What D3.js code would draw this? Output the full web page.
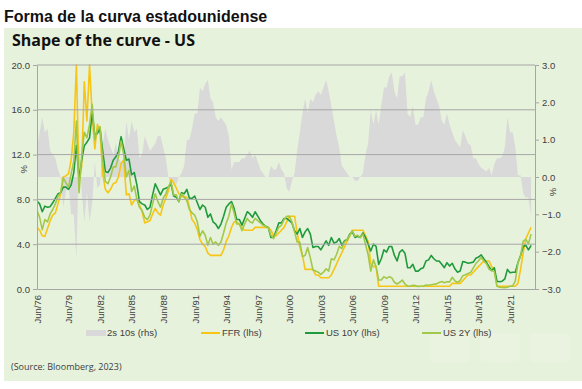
<!DOCTYPE html>
<html lang="es">
<head>
<meta charset="UTF-8">
<script src="https://d3js.org/d3.v7.min.js"></script>
<style>
  body { margin: 0; background: #fff; }
  text { font-family: "Liberation Sans", Arial, sans-serif; }
</style>
</head>
<body>
<svg id="chart" width="582" height="389"></svg>
<script>
// quarterly readings, Jun 1976 .. Jun 2023
const startDate = new Date(1976, 5, 1);

const ffr = [
  5.5, 5.25, 4.75,
  4.7, 5.4, 6.1, 6.6,   6.8, 7.6, 8.5, 10.0,   10.1, 10.3, 11.5, 14.0,
  20.0, 9.5, 11.0, 18.5,   15.0, 20.0, 15.5, 12.5,   14.7, 14.0, 10.3, 8.9,
  8.6, 8.9, 9.4, 9.5,   10.0, 11.2, 11.5, 8.4,   8.5, 7.5, 7.9, 8.1,
  7.5, 6.9, 5.9, 6.0,   6.1, 6.7, 7.2, 6.8,   6.6, 7.5, 8.1, 8.8,
  9.8, 9.5, 9.0, 8.5,   8.25, 8.25, 8.2, 7.3,   6.2, 5.9, 5.3, 4.4,
  4.0, 3.8, 3.2, 3.0,   3.0, 3.0, 3.0, 3.0,   3.5, 4.25, 4.75, 5.5,
  6.0, 6.0, 5.75, 5.5,   5.25, 5.25, 5.25, 5.25,   5.5, 5.5, 5.5, 5.5,
  5.5, 5.5, 5.25, 4.75,   4.75, 5.0, 5.25, 5.5,   6.0, 6.5, 6.5, 6.5,
  5.0, 3.75, 3.0, 1.75,   1.75, 1.75, 1.75, 1.25,   1.25, 1.0, 1.0, 1.0,
  1.0, 1.25, 1.75, 2.25,   2.75, 3.25, 3.75, 4.25,   4.75, 5.25, 5.25, 5.25,
  5.25, 5.25, 4.75, 4.25,   2.25, 2.0, 2.0, 0.25,   0.25, 0.25, 0.25, 0.25,
  0.25, 0.25, 0.25, 0.25,   0.25, 0.25, 0.25, 0.25,   0.25, 0.25, 0.25, 0.25,
  0.25, 0.25, 0.25, 0.25,   0.25, 0.25, 0.25, 0.25,   0.25, 0.25, 0.25, 0.5,
  0.5, 0.5, 0.5, 0.75,   1.0, 1.25, 1.25, 1.5,   1.75, 2.0, 2.25, 2.5,
  2.5, 2.5, 2.0, 1.75,   0.25, 0.25, 0.25, 0.25,   0.25, 0.25, 0.25, 0.25,
  0.5, 1.75, 3.25, 4.5,   5.0, 5.5
];

const us10y = [
  7.85, 7.6, 6.9,
  7.4, 7.3, 7.35, 7.7,   8.1, 8.5, 8.6, 9.1,   9.1, 8.9, 9.3, 10.4,
  12.8, 9.8, 11.5, 12.8,   13.1, 13.5, 15.8, 13.7,   13.9, 14.3, 12.3, 10.5,
  10.4, 10.8, 11.5, 11.8,   12.3, 13.6, 12.5, 11.5,   11.6, 10.2, 10.4, 9.3,
  7.8, 7.6, 7.5, 7.1,   7.3, 8.4, 9.4, 8.9,   8.4, 8.9, 9.0, 9.1,
  9.4, 8.3, 8.2, 7.8,   8.6, 8.5, 8.9, 8.1,   8.1, 8.3, 7.7, 7.1,
  7.5, 7.3, 6.4, 6.7,   6.0, 5.8, 5.4, 5.8,   6.5, 7.3, 7.6, 7.8,
  7.2, 6.2, 6.2, 5.7,   6.3, 6.9, 6.7, 6.4,   6.9, 6.5, 6.1, 5.8,
  5.6, 5.5, 4.6, 4.6,   5.2, 5.9, 5.9, 6.3,   6.3, 6.1, 5.9, 5.2,
  4.9, 5.4, 4.6, 5.1,   5.4, 4.9, 3.7, 3.8,   3.8, 3.5, 3.9, 4.3,
  3.9, 4.6, 4.1, 4.2,   4.5, 3.9, 4.3, 4.4,   4.9, 5.1, 4.6, 4.7,
  4.6, 5.0, 4.6, 4.0,   3.4, 4.0, 3.8, 2.2,   2.7, 3.5, 3.3, 3.8,
  3.8, 3.0, 2.5, 3.3,   3.5, 3.2, 1.9, 1.9,   2.2, 1.6, 1.6, 1.8,
  1.9, 2.5, 2.6, 3.0,   2.7, 2.5, 2.5, 2.2,   1.9, 2.35, 2.05, 2.3,
  1.8, 1.5, 1.6, 2.45,   2.4, 2.3, 2.35, 2.4,   2.75, 2.85, 3.05, 2.7,
  2.4, 2.0, 1.65, 1.9,   0.7, 0.65, 0.7, 0.9,   1.75, 1.45, 1.5, 1.5,
  2.35, 3.0, 3.8, 3.9,   3.5, 3.9
];

const us2y = [
  7.0, 6.4, 5.3,
  6.2, 6.0, 6.7, 7.1,   7.6, 8.3, 8.6, 9.9,   9.5, 9.1, 10.3, 11.4,
  15.0, 8.6, 11.9, 14.0,   13.5, 14.7, 16.5, 13.3,   14.2, 14.5, 11.4, 9.6,
  9.4, 10.0, 10.9, 10.9,   11.8, 13.2, 12.0, 10.0,   10.6, 8.7, 9.2, 8.0,
  7.3, 7.0, 6.4, 6.2,   6.6, 7.6, 8.5, 7.8,   7.3, 8.1, 8.5, 9.1,
  9.6, 8.4, 8.4, 7.8,   8.5, 8.2, 7.9, 7.1,   6.8, 6.6, 6.0, 4.7,
  5.2, 4.8, 3.9, 4.6,   4.0, 4.2, 3.9, 4.2,   5.0, 5.9, 6.5, 7.6,
  6.8, 5.8, 5.8, 5.2,   5.8, 6.3, 6.0, 5.9,   6.3, 6.1, 5.9, 5.7,
  5.6, 5.5, 4.8, 4.5,   5.0, 5.5, 5.7, 6.2,   6.5, 6.5, 6.0, 5.1,
  4.2, 4.2, 2.9, 3.0,   3.7, 2.8, 1.7, 1.6,   1.5, 1.3, 1.5, 1.8,
  1.6, 2.7, 2.6, 3.1,   3.8, 3.6, 4.2, 4.4,   4.8, 5.2, 4.7, 4.8,
  4.6, 4.9, 4.0, 3.05,   1.6, 2.6, 2.0, 0.8,   0.8, 1.1, 0.95, 1.1,
  1.0, 0.6, 0.45, 0.6,   0.8, 0.45, 0.25, 0.25,   0.33, 0.3, 0.23, 0.25,
  0.25, 0.36, 0.33, 0.38,   0.42, 0.46, 0.58, 0.67,   0.56, 0.64, 0.64, 1.05,
  0.73, 0.58, 0.77, 1.19,   1.27, 1.38, 1.48, 1.89,   2.27, 2.53, 2.82, 2.49,
  2.27, 1.76, 1.63, 1.57,   0.25, 0.15, 0.13, 0.12,   0.16, 0.25, 0.28, 0.73,
  2.33, 2.95, 4.28, 4.43,   4.03, 4.9
];

// 2s 10s spread, right-hand scale
const spread = [
  0.8, 1.2, 1.6,
  1.2, 1.3, 0.7, 0.6,   0.5, 0.2, 0.0, -0.8,   -0.4, -0.2, -1.0, -1.0,
  -2.2, 0.9, -0.4, -1.2,   -0.4, -1.2, -0.7, 0.4,   -0.3, -0.2, 0.9, 1.3,
  1.0, 0.8, 0.6, 0.9,   0.5, 0.4, 0.5, 1.5,   1.0, 1.5, 1.2, 1.3,
  0.5, 0.6, 1.1, 0.9,   0.7, 0.8, 0.9, 1.1,   1.1, 0.8, 0.5, 0.0,
  -0.2, -0.1, -0.2, 0.0,   0.1, 0.3, 1.0, 1.0,   1.3, 1.7, 1.7, 2.4,
  2.3, 2.5, 2.6, 2.1,   2.0, 1.6, 1.5, 1.6,   1.5, 1.4, 1.1, 0.2,
  0.4, 0.4, 0.4, 0.5,   0.5, 0.6, 0.7, 0.5,   0.6, 0.4, 0.2, 0.1,
  0.0, 0.0, 0.3, 0.2,   0.2, 0.4, 0.2, 0.1,   -0.3, -0.4, -0.1, 0.1,
  0.7, 1.2, 1.7, 2.1,   1.7, 2.1, 2.0, 2.2,   2.3, 2.2, 2.4, 2.6,
  2.3, 1.9, 1.5, 1.1,   0.8, 0.3, 0.2, 0.1,   0.0, 0.0, -0.1, -0.1,
  0.0, 0.1, 0.6, 0.9,   1.8, 1.4, 1.8, 1.4,   1.9, 2.4, 2.4, 2.7,
  2.8, 2.3, 2.1, 2.7,   2.7, 2.8, 1.7, 1.6,   1.9, 1.4, 1.4, 1.6,
  1.6, 2.1, 2.3, 2.6,   2.3, 2.1, 1.9, 1.5,   1.4, 1.7, 1.4, 1.2,
  1.0, 0.9, 0.8, 1.25,   1.1, 0.9, 0.85, 0.5,   0.5, 0.35, 0.25, 0.2,
  0.15, 0.25, 0.05, 0.35,   0.5, 0.5, 0.55, 0.8,   1.6, 1.2, 1.2, 0.8,
  0.05, 0.05, -0.45, -0.55,   -0.55, -1.05
];

const xTickLabels = ["Jun/76", "Jun/79", "Jun/82", "Jun/85", "Jun/88", "Jun/91", "Jun/94", "Jun/97",
  "Jun/00", "Jun/03", "Jun/06", "Jun/09", "Jun/12", "Jun/15", "Jun/18", "Jun/21"];
const leftTicks = [0, 4, 8, 12, 16, 20];
const rightTicks = [-3, -2, -1, 0, 1, 2, 3];

const legendItems = [
  { name: "2s 10s (rhs)", color: "#d9d9d9", type: "area" },
  { name: "FFR (lhs)", color: "#f7c515", type: "line" },
  { name: "US 10Y (lhs)", color: "#1f9a3c", type: "line" },
  { name: "US 2Y (lhs)", color: "#a2c84a", type: "line" }
];

const dates = ffr.map((d, i) => d3.timeMonth.offset(startDate, i * 3));
const rows = dates.map((d, i) => ({ date: d, ffr: ffr[i], y10: us10y[i], y2: us2y[i], sp: spread[i] }));

const svg = d3.select("#chart");
const margin = { top: 65, right: 47, bottom: 100, left: 37 };
const W = 582, H = 389;

// page header + green panel
svg.append("text")
  .attr("x", 4).attr("y", 22)
  .style("font-size", "16px").style("font-weight", "bold").attr("fill", "#111")
  .text("Forma de la curva estadounidense");

svg.append("rect")
  .attr("x", 4).attr("y", 28).attr("width", 578).attr("height", 353)
  .attr("fill", "#e7f2dc");

svg.append("text")
  .attr("x", 12).attr("y", 46)
  .style("font-family", "'Open Sans', sans-serif")
  .style("font-size", "16px").style("font-weight", "bold").attr("fill", "#111")
  .text("Shape of the curve - US");

// faint icon ghosts bottom right
[430, 480, 530].forEach(x0 => {
  svg.append("rect").attr("x", x0).attr("y", 333).attr("width", 40).attr("height", 29)
    .attr("rx", 4).attr("fill", "#ffffff").attr("opacity", 0.12);
});

const x = d3.scaleTime()
  .domain([startDate, new Date(2023, 9, 15)])
  .range([margin.left, W - margin.right]);
const yL = d3.scaleLinear().domain([0, 20]).range([H - margin.bottom, margin.top]);
const yR = d3.scaleLinear().domain([-3, 3]).range([H - margin.bottom, margin.top]);

svg.append("clipPath").attr("id", "plot")
  .append("rect")
  .attr("x", margin.left).attr("y", margin.top - 1)
  .attr("width", W - margin.right - margin.left).attr("height", H - margin.bottom - margin.top + 2);

const g = svg.append("g").attr("clip-path", "url(#plot)");

// 2s10s area
g.append("path")
  .datum(rows)
  .attr("fill", "#d9d9d9")
  .attr("d", d3.area().x(d => x(d.date)).y0(yR(0)).y1(d => yR(d.sp)));

// gridlines
svg.append("g")
  .selectAll("line")
  .data(leftTicks.filter(t => t > 0))
  .enter().append("line")
  .attr("x1", margin.left).attr("x2", W - margin.right)
  .attr("y1", d => yL(d)).attr("y2", d => yL(d))
  .attr("stroke", "#a6a6a6").attr("stroke-width", 1);

const series = [
  { key: "ffr", color: legendItems[1].color },
  { key: "y10", color: legendItems[2].color },
  { key: "y2", color: legendItems[3].color }
];
series.forEach(s => {
  g.append("path")
    .datum(rows)
    .attr("fill", "none")
    .attr("stroke", s.color)
    .attr("stroke-width", 1.6)
    .attr("stroke-linejoin", "round")
    .attr("d", d3.line().x(d => x(d.date)).y(d => yL(d[s.key])));
});

// axes
function styleAxis(sel) {
  sel.select(".domain").attr("stroke", "#a6a6a6");
  sel.selectAll(".tick line").attr("stroke", "#a6a6a6");
  sel.selectAll(".tick text").attr("fill", "#404040").style("font-size", "9.5px")
    .style("font-family", "'Liberation Sans', Arial, sans-serif");
}

svg.append("g")
  .attr("transform", `translate(${margin.left},0)`)
  .call(d3.axisLeft(yL).tickValues(leftTicks).tickFormat(d3.format(".1f")).tickSize(4).tickSizeOuter(0))
  .call(styleAxis);

svg.append("g")
  .attr("transform", `translate(${W - margin.right},0)`)
  .call(d3.axisRight(yR).tickValues(rightTicks).tickFormat(d3.format(".1f")).tickSize(4).tickSizeOuter(0))
  .call(styleAxis);

const xTickDates = xTickLabels.map((d, i) => d3.timeYear.offset(startDate, i * 3));
const xAxis = svg.append("g")
  .attr("transform", `translate(0,${H - margin.bottom})`)
  .call(d3.axisBottom(x).tickValues(xTickDates).tickFormat((d, i) => xTickLabels[i]).tickSize(0).tickSizeOuter(0))
  .call(styleAxis);
xAxis.selectAll(".tick text")
  .attr("transform", "rotate(-90)")
  .attr("text-anchor", "end")
  .attr("x", -6).attr("y", 0).attr("dy", "0.35em");

// % axis titles
svg.append("text")
  .attr("transform", `translate(27,${yL(10.7)}) rotate(-90)`)
  .attr("text-anchor", "middle").style("font-size", "9.5px").attr("fill", "#404040")
  .text("%");
svg.append("text")
  .attr("transform", `translate(556,${yR(-0.4)}) rotate(-90)`)
  .attr("text-anchor", "middle").style("font-size", "9.5px").attr("fill", "#404040")
  .text("%");

// legend
const legendX = [86, 201, 305, 422];
const lg = svg.append("g").attr("transform", "translate(0,333)");
legendItems.forEach((it, i) => {
  const x0 = legendX[i];
  if (it.type === "area") {
    lg.append("rect").attr("x", x0).attr("y", -3).attr("width", 20).attr("height", 6).attr("fill", it.color);
  } else {
    lg.append("line").attr("x1", x0).attr("x2", x0 + 19).attr("y1", 0).attr("y2", 0)
      .attr("stroke", it.color).attr("stroke-width", 2);
  }
  lg.append("text").attr("x", x0 + 21).attr("y", 0).attr("dy", "0.35em")
    .style("font-size", "9.5px").attr("fill", "#404040").text(it.name);
});

svg.append("text")
  .attr("x", 11).attr("y", 370)
  .style("font-family", "'Open Sans', sans-serif")
  .style("font-size", "9px").attr("fill", "#404040")
  .text("(Source: Bloomberg, 2023)");
</script>
</body>
</html>
